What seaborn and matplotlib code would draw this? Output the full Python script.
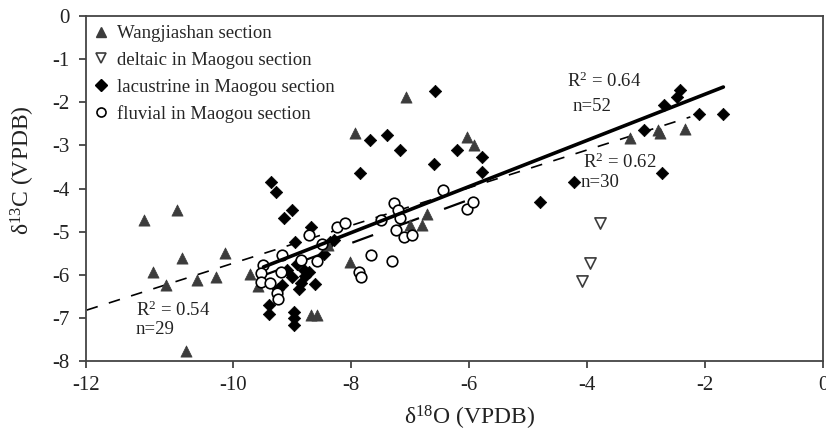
import numpy as np
import pandas as pd
import matplotlib
matplotlib.use("Agg")
import matplotlib.pyplot as plt
from matplotlib.lines import Line2D
import seaborn as sns

# --- Dados ---
# Wangjiashan (triângulos cinza)
wang_x = [-11.52, -10.95, -11.37, -10.88, -11.15, -10.61, -10.15, -10.29, -10.80, -9.71,
          -9.58, -8.69, -8.58, -8.02, -8.39, -7.00, -6.80, -6.72, -7.07, -7.93,
          -6.04, -5.92, -3.27, -2.80, -2.76, -2.34]
wang_y = [-4.73, -4.50, -5.93, -5.62, -6.24, -6.13, -5.49, -6.05, -7.77, -5.99,
          -6.26, -6.94, -6.94, -5.70, -5.31, -4.85, -4.85, -4.58, -1.87, -2.72,
          -2.80, -2.99, -2.84, -2.64, -2.72, -2.61]

# deltaico em Maogou (triângulos invertidos vazios)
delt_x = [-3.78, -3.96, -4.08]
delt_y = [-4.80, -5.72, -6.15]

# lacustre em Maogou (losangos pretos)
lac_x = [-9.37, -9.27, -9.15, -9.00, -8.69, -8.95, -9.40, -9.40, -8.97, -8.97,
         -8.97, -8.61, -9.18, -8.89, -9.09, -9.00, -8.81, -8.72, -8.47, -8.36,
         -9.25, -8.85, -8.78, -8.30, -8.92,
         -7.85, -7.68, -7.40, -7.17, -6.58, -6.60, -6.20, -5.79, -5.79, -4.80, -4.23,
         -3.04, -2.73, -2.70, -2.48, -2.42, -2.11, -1.69]
lac_y = [-3.84, -4.08, -4.69, -4.50, -4.89, -5.24, -6.69, -6.90, -6.86, -7.01,
         -7.17, -6.22, -6.24, -6.32, -5.89, -6.05, -5.89, -5.93, -5.51, -5.25,
         -6.33, -6.18, -6.02, -5.20, -5.76,
         -3.65, -2.88, -2.76, -3.10, -1.74, -3.43, -3.10, -3.26, -3.61, -4.31, -3.84,
         -2.65, -3.64, -2.07, -1.87, -1.72, -2.27, -2.27]

# fluvial em Maogou (círculos vazios)
flu_x = [-9.49, -9.54, -9.54, -9.38, -9.18, -9.20, -9.26, -9.25, -8.86, -8.58,
         -8.72, -8.50, -8.24, -8.10, -7.50, -7.28, -7.20, -7.17, -7.25, -7.11,
         -6.97, -7.66, -7.31, -7.87, -7.83, -6.45, -6.04, -5.94]
flu_y = [-5.78, -5.95, -6.16, -6.20, -5.55, -5.93, -6.43, -6.57, -5.66, -5.68,
         -5.08, -5.29, -4.89, -4.81, -4.73, -4.34, -4.50, -4.69, -4.97, -5.13,
         -5.08, -5.55, -5.68, -5.93, -6.05, -4.04, -4.47, -4.31]

# Retas de regressão: (inclinação, intercepto, x inicial, x final)
fit_52 = [0.535, -0.743, -9.49, -1.69]
fit_29 = [0.4375, -1.356, -12.49, -2.25]
fit_30 = [0.503, -1.241, -9.54, -5.94]

x_ticks = [-12.5, -10, -8, -6, -4, -2, 0]
x_tick_labels = ['-12', '-10', '-8', '-6', '-4', '-2', '0']
y_ticks = [0, -1, -2, -3, -4, -5, -6, -7, -8]

grupos = ['Wangjiashan section', 'deltaic in Maogou section',
          'lacustrine in Maogou section', 'fluvial in Maogou section']

df = pd.concat([
    pd.DataFrame({'x': wang_x, 'y': wang_y, 'grupo': grupos[0]}),
    pd.DataFrame({'x': delt_x, 'y': delt_y, 'grupo': grupos[1]}),
    pd.DataFrame({'x': lac_x, 'y': lac_y, 'grupo': grupos[2]}),
    pd.DataFrame({'x': flu_x, 'y': flu_y, 'grupo': grupos[3]}),
], ignore_index=True)

# --- Estilo ---
sns.set_style("ticks")
plt.rcParams['font.family'] = ['Liberation Serif', 'DejaVu Serif']
plt.rcParams['mathtext.fontset'] = 'custom'
plt.rcParams['mathtext.rm'] = 'Liberation Serif'
plt.rcParams['mathtext.it'] = 'Liberation Serif:italic'
plt.rcParams['axes.unicode_minus'] = False

fig = plt.figure(figsize=(8.26, 4.33), dpi=100)
ax = fig.add_axes([86 / 826, 1 - 361 / 433, 737 / 826, 345 / 433])

cinza = '#3c3c3c'
estilos = {
    grupos[0]: dict(marker='^', s=65, color=cinza, edgecolor=cinza, linewidth=0.5),
    grupos[1]: dict(marker='v', s=65, color='white', edgecolor=cinza, linewidth=1.2),
    grupos[2]: dict(marker='D', s=40, color='black', edgecolor='black', linewidth=0.5),
    grupos[3]: dict(marker='o', s=58, color='white', edgecolor='black', linewidth=1.2),
}

# Retas primeiro, pontos por cima
def desenha_reta(fit, **kw):
    xs = np.array([fit[2], fit[3]])
    ax.plot(xs, fit[0] * xs + fit[1], **kw)

desenha_reta(fit_29, color='black', lw=1.2, dashes=(7, 7), zorder=2)
desenha_reta(fit_30, color='black', lw=1.6, dashes=(10, 12), zorder=2)

for g in [grupos[2], grupos[0], grupos[1], grupos[3]]:
    sns.scatterplot(data=df[df['grupo'] == g], x='x', y='y', ax=ax, zorder=3,
                    legend=False, **estilos[g])

desenha_reta(fit_52, color='black', lw=2.6, zorder=4)

# Textos das regressões
fs_txt = 13.5
cor_txt = '#222222'
ax.text(-4.34, -1.51, 'R$^2$ = 0.64', fontsize=fs_txt, va='center', color=cor_txt)
ax.text(-4.24, -2.09, 'n=52', fontsize=fs_txt, va='center', color=cor_txt)
ax.text(-4.07, -3.39, 'R$^2$ = 0.62', fontsize=fs_txt, va='center', color=cor_txt)
ax.text(-4.12, -3.85, 'n=30', fontsize=fs_txt, va='center', color=cor_txt)
ax.text(-11.66, -6.82, 'R$^2$ = 0.54', fontsize=fs_txt, va='center', color=cor_txt)
ax.text(-11.66, -7.26, 'n=29', fontsize=fs_txt, va='center', color=cor_txt)

# Eixos
ax.set_xlim(-12.5, 0)
ax.set_ylim(-8, 0)
ax.set_xticks(x_ticks)
ax.set_xticklabels(x_tick_labels)
ax.set_yticks(y_ticks)
ax.set_yticklabels([str(v) for v in y_ticks])
ax.tick_params(axis='both', labelsize=15, length=5, width=1.2, color='#333333',
               labelcolor='#222222')
ax.tick_params(axis='y', pad=7)
ax.tick_params(axis='x', pad=6)
for sp in ax.spines.values():
    sp.set_color('#444444')
    sp.set_linewidth(1.3)

ax.set_xlabel('δ$^{18}$O (VPDB)', fontsize=17, color=cor_txt)
ax.set_ylabel('δ$^{13}$C (VPDB)', fontsize=17, color=cor_txt)
ax.xaxis.set_label_coords(0.521, -0.125)
ax.yaxis.set_label_coords(-0.066, 0.554)

# Legenda
handles = [
    Line2D([], [], linestyle='none', marker='^', markersize=7, color=cinza),
    Line2D([], [], linestyle='none', marker='v', markersize=7, markerfacecolor='white',
           markeredgecolor=cinza, markeredgewidth=1.2),
    Line2D([], [], linestyle='none', marker='D', markersize=6, color='black'),
    Line2D([], [], linestyle='none', marker='o', markersize=6.5, markerfacecolor='white',
           markeredgecolor='black', markeredgewidth=1.2),
]
ax.legend(handles, grupos, loc='upper left', bbox_to_anchor=(-0.005, 1.0),
          frameon=False, fontsize=13.5,
          handlelength=1.0, handletextpad=0.35, labelspacing=0.5,
          borderaxespad=0.3, borderpad=0.2)

fig.savefig('out.png', dpi=100, facecolor='white')
